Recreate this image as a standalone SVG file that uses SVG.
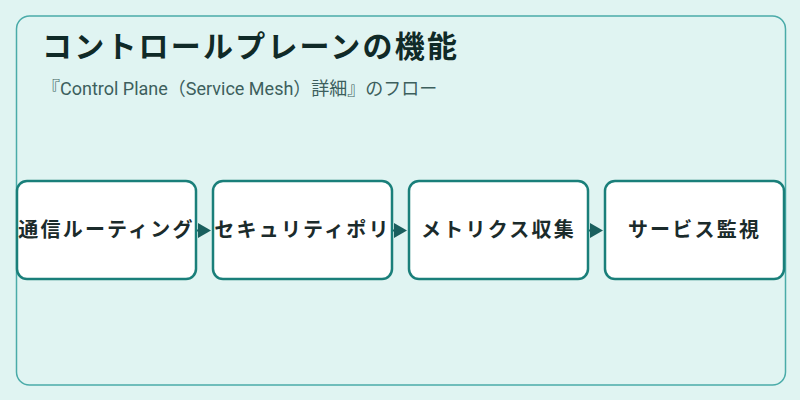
<svg xmlns="http://www.w3.org/2000/svg" width="800" height="400" viewBox="0 0 800 400">
<style>
.frame{fill:#e0f4f2;stroke:#4aaba9;stroke-width:1.5}
.node rect{fill:#ffffff;stroke:#1a7f7a;stroke-width:2.5}
.node text{font-family:"Noto Sans CJK JP",sans-serif;font-size:20px;font-weight:bold;fill:#1b2b2b;text-anchor:middle;letter-spacing:2.2px}
.title{font-family:"Noto Sans CJK JP",sans-serif;font-size:30px;font-weight:bold;fill:#102a28;letter-spacing:2.2px}
.sub{font-family:Roboto,"Noto Sans CJK JP",sans-serif;font-size:18px;fill:#3d5f5d}
.conn{stroke:#1a5f5e;stroke-width:2;fill:none}
</style>
<defs>
<marker id="arr" viewBox="0 0 13 15" refX="0" refY="7.5" markerWidth="13" markerHeight="15" markerUnits="userSpaceOnUse" orient="auto">
<path d="M0,0 L13,7.5 L0,15 Z" fill="#1a5f5e"/>
</marker>
</defs>
<rect width="800" height="400" fill="#e0f4f2"/>
<rect class="frame" x="16.5" y="16" width="769" height="369" rx="13"/>
<text class="title" x="42" y="57">コントロールプレーンの機能</text>
<text class="sub" x="42" y="95">『Control Plane（Service Mesh）詳細』のフロー</text>
<g id="connectors">
<path class="conn" d="M196,230.5 L198,230.5" marker-end="url(#arr)"/>
<path class="conn" d="M392,230.5 L394,230.5" marker-end="url(#arr)"/>
<path class="conn" d="M588,230.5 L590,230.5" marker-end="url(#arr)"/>
</g>
<g id="node1" class="node"><rect x="17" y="181" width="179" height="98" rx="10"/><text x="106.5" y="237">通信ルーティング</text></g>
<g id="node2" class="node"><rect x="213" y="181" width="179" height="98" rx="10"/><text x="302.5" y="237">セキュリティポリ</text></g>
<g id="node3" class="node"><rect x="409" y="181" width="179" height="98" rx="10"/><text x="498.5" y="237">メトリクス収集</text></g>
<g id="node4" class="node"><rect x="605" y="181" width="179" height="98" rx="10"/><text x="694.5" y="237">サービス監視</text></g>
</svg>
